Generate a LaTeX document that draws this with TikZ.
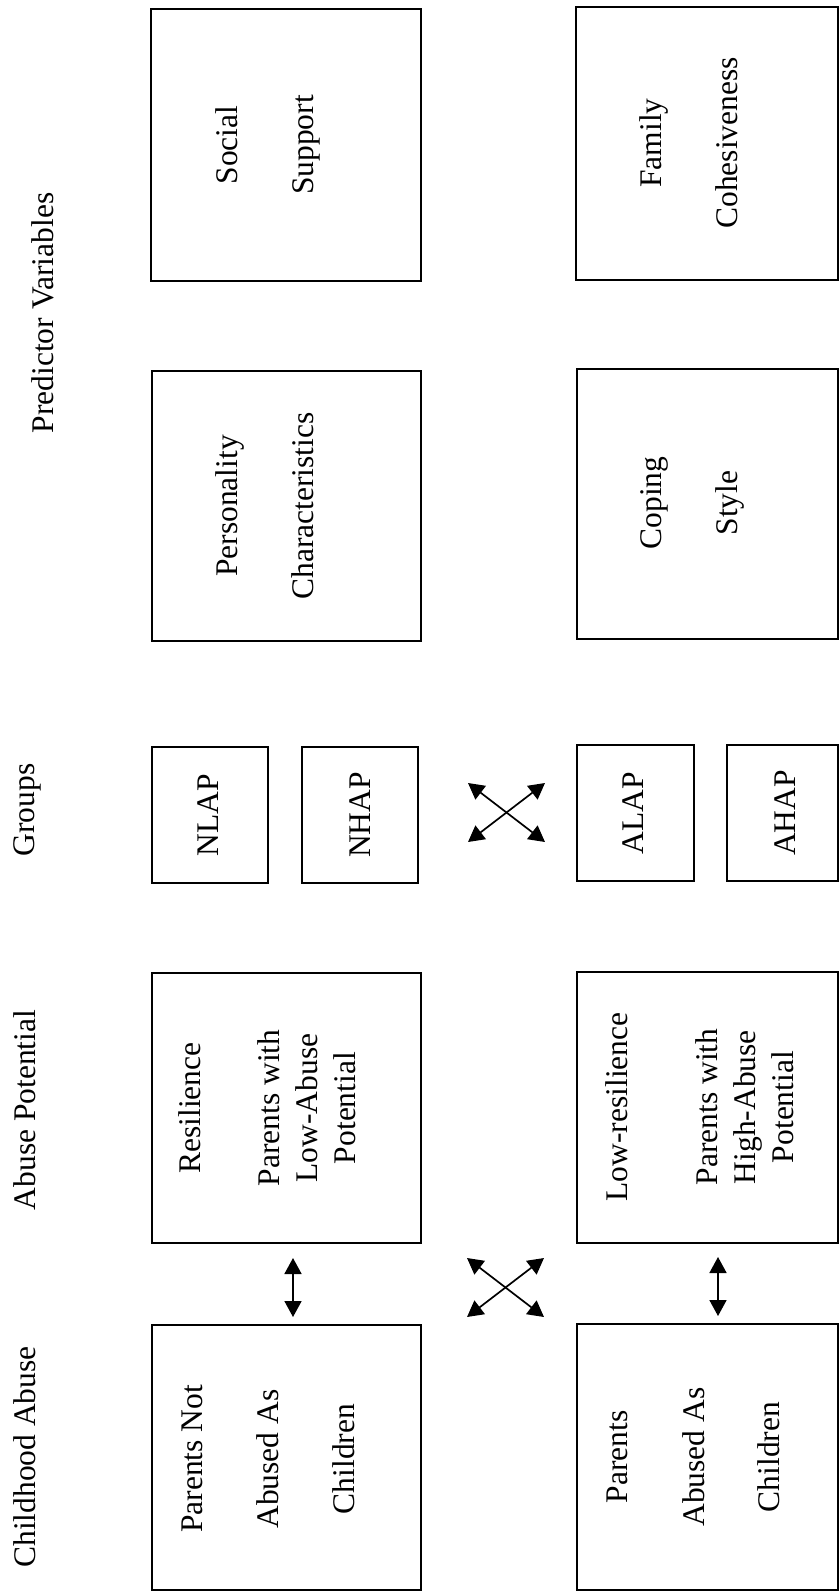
\documentclass[tikz,border=0pt]{standalone}
\usepackage{fontspec}
\setmainfont{Liberation Serif}
\usetikzlibrary{arrows.meta}
\begin{document}
\begin{tikzpicture}[x=1pt,y=-1pt,
  boxst/.style={draw, line width=1.6pt, inner sep=0pt, outer sep=0pt},
  txt/.style={rotate=90, align=center, inner sep=0pt, outer sep=0pt,
    font=\fontsize{31.5}{38}\selectfont,
    execute at begin node=\strut, execute at end node=\strut},
  dbl/.style={line width=1.7pt,
    {Triangle[length=16pt,width=17pt]}-{Triangle[length=16pt,width=17pt]}}
]
\useasboundingbox (0,0) rectangle (839,1592);
\fill[white] (0,0) rectangle (839,1592);

% column headers
\node[txt] (hdrA) at (27.4,1457) {Childhood Abuse};
\node[txt] (hdrB) at (27.4,1110) {Abuse Potential};
\node[txt] (hdrC) at (26.4,810) {Groups};
\node[txt] (hdrD) at (45.4,313) {Predictor Variables};

% predictor variable boxes
\node[boxst, minimum width=270pt, minimum height=272pt] (ss) at (286,145) {};
\node[txt] (ssT) at (270,145) {Social\\[38pt]Support};
\node[boxst, minimum width=262pt, minimum height=273pt] (fc) at (707,143.5) {};
\node[txt] (fcT) at (694,143) {Family\\[38pt]Cohesiveness};
\node[boxst, minimum width=269pt, minimum height=270pt] (pers) at (286.5,506) {};
\node[txt] (persT) at (270.4,506) {Personality\\[38pt]Characteristics};
\node[boxst, minimum width=261pt, minimum height=270pt] (cs) at (707.5,504) {};
\node[txt] (csT) at (695,503) {Coping\\[38pt]Style};

% group boxes
\node[boxst, minimum width=116pt, minimum height=136pt] (nlap) at (210,815) {};
\node[txt] (nlapT) at (210.4,815) {NLAP};
\node[boxst, minimum width=116pt, minimum height=136pt] (nhap) at (360,815) {};
\node[txt] (nhapT) at (362.4,815) {NHAP};
\node[boxst, minimum width=117pt, minimum height=136pt] (alap) at (635.5,813) {};
\node[txt] (alapT) at (635.4,813) {ALAP};
\node[boxst, minimum width=111pt, minimum height=136pt] (ahap) at (782.5,813) {};
\node[txt] (ahapT) at (787.4,813) {AHAP};

% abuse potential boxes
\node[boxst, minimum width=269pt, minimum height=270pt] (res) at (286.5,1108) {};
\node[txt] (resT) at (272.9,1108) {Resilience\\[41pt]Parents with\\Low-Abuse\\Potential};
\node[boxst, minimum width=261pt, minimum height=271pt] (lr) at (707.5,1107.5) {};
\node[txt] (lrT) at (705.4,1107) {Low-resilience\\[52pt]Parents with\\High-Abuse\\Potential};

% childhood abuse boxes
\node[boxst, minimum width=269pt, minimum height=265pt] (pna) at (286.5,1457.5) {};
\node[txt] (pnaT) at (273.4,1459) {Parents Not\\[38pt]Abused As\\[38pt]Children};
\node[boxst, minimum width=261pt, minimum height=266pt] (pa) at (707.5,1457) {};
\node[txt] (paT) at (698.4,1457) {Parents\\[39pt]Abused As\\[37pt]Children};

% arrow end points
\coordinate (v1a) at (293,1258);
\coordinate (v1b) at (293,1317);
\coordinate (v2a) at (718,1257);
\coordinate (v2b) at (718,1316);
\coordinate (xa1) at (468,783);
\coordinate (xa2) at (545,842);
\coordinate (xa3) at (468,842);
\coordinate (xa4) at (545,783);
\coordinate (xb1) at (467,1258);
\coordinate (xb2) at (544,1317);
\coordinate (xb3) at (467,1317);
\coordinate (xb4) at (544,1258);

\draw[dbl] (v1a) -- (v1b);
\draw[dbl] (v2a) -- (v2b);
\draw[dbl] (xa1) -- (xa2);
\draw[dbl] (xa3) -- (xa4);
\draw[dbl] (xb1) -- (xb2);
\draw[dbl] (xb3) -- (xb4);
\end{tikzpicture}
\end{document}
